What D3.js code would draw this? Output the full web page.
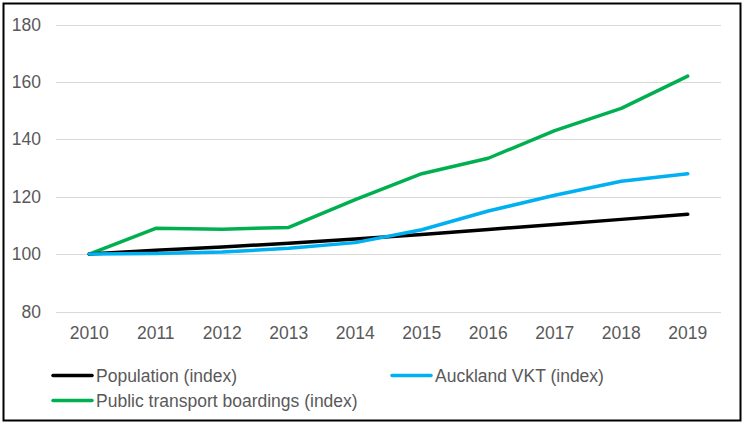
<!DOCTYPE html>
<html><head><meta charset="utf-8">
<script src="https://cdn.jsdelivr.net/npm/d3@7"></script>
<style>html,body{margin:0;padding:0;background:#fff}svg{display:block}</style>
</head><body>
<script>
const years = ["2010","2011","2012","2013","2014","2015","2016","2017","2018","2019"];
const population = [100, 101.3, 102.5, 103.8, 105.3, 106.8, 108.6, 110.3, 112.1, 113.9];
const vkt = [100, 100.2, 100.7, 102, 104, 108.5, 115, 120.5, 125.4, 128];
const ptBoardings = [100, 109, 108.7, 109.3, 119, 128, 133.4, 143, 150.8, 162];
const yTicks = [80, 100, 120, 140, 160, 180];
const seriesNames = ["Population (index)", "Auckland VKT (index)", "Public transport boardings (index)"];
const seriesColors = ["#000000", "#00B0F0", "#00B050"];

const W = 743, H = 424;
const svg = d3.select("body").append("svg").attr("width", W).attr("height", H);
svg.append("rect").attr("x", 3.5).attr("y", 3.5).attr("width", 737).attr("height", 417)
  .attr("fill", "#fff").attr("stroke", "#000").attr("stroke-width", 2);

const x = d3.scaleBand().domain(years).range([56, 721]);
const y = d3.scaleLinear().domain([80, 180]).range([311.5, 24.5]);

const g = svg.append("g");
g.selectAll("line.grid").data(yTicks).enter().append("line")
  .attr("x1", 56).attr("x2", 721)
  .attr("y1", d => Math.round(y(d)) + 0.5).attr("y2", d => Math.round(y(d)) + 0.5)
  .attr("stroke", "#d9d9d9").attr("stroke-width", 1);

const font = "'Liberation Sans', Arial, sans-serif";
g.selectAll("text.yl").data(yTicks).enter().append("text")
  .attr("x", 41).attr("y", d => y(d)).attr("text-anchor", "end")
  .attr("dominant-baseline", "central")
  .attr("font-family", font).attr("font-size", 17.5).attr("fill", "#595959")
  .text(d => d);

g.selectAll("text.xl").data(years).enter().append("text")
  .attr("x", d => x(d) + x.bandwidth() / 2).attr("y", 332.5)
  .attr("text-anchor", "middle").attr("dominant-baseline", "central")
  .attr("font-family", font).attr("font-size", 17.5).attr("fill", "#595959")
  .text(d => d);

const allSeries = [population, vkt, ptBoardings];
const line = d3.line().x((d, i) => x(years[i]) + x.bandwidth() / 2).y(d => y(d));
[2, 0, 1].forEach(k => {
  g.append("path").attr("d", line(allSeries[k])).attr("fill", "none")
    .attr("stroke", seriesColors[k]).attr("stroke-width", 3.5)
    .attr("stroke-linecap", "round").attr("stroke-linejoin", "round");
});

const legendPos = [[52, 375.5], [391, 375.5], [52, 400.5]];
seriesNames.forEach((name, k) => {
  const [lx, ly] = legendPos[k];
  svg.append("line").attr("x1", lx + 1).attr("x2", lx + 40).attr("y1", ly).attr("y2", ly)
    .attr("stroke", seriesColors[k]).attr("stroke-width", 3.5).attr("stroke-linecap", "round");
  svg.append("text").attr("x", lx + 44).attr("y", ly).attr("dominant-baseline", "central")
    .attr("font-family", font).attr("font-size", 17.5).attr("fill", "#595959").text(name);
});
</script>
</body></html>
